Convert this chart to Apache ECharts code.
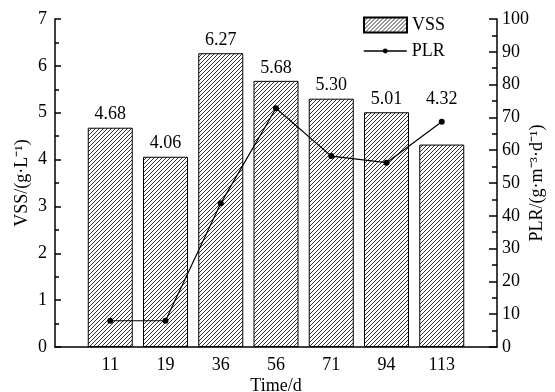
<!DOCTYPE html>
<html>
<head>
<meta charset="utf-8">
<script src="https://cdn.jsdelivr.net/npm/echarts@6/dist/echarts.min.js"></script>
<style>
html,body{margin:0;padding:0;background:#fff;}
#c{width:555px;height:392px;}
</style>
</head>
<body>
<div id="c"></div>
<script>
// Data
var categories = ['', '11', '19', '36', '56', '71', '94', '113', ''];
var vssValues = [null, 4.68, 4.06, 6.27, 5.68, 5.30, 5.01, 4.32, null];
var plrValues = [null, 8, 8, 43.8, 72.8, 58.2, 56.2, 68.7, null];
var vssTicks = [0, 1, 2, 3, 4, 5, 6, 7];
var plrTicks = [0, 10, 20, 30, 40, 50, 60, 70, 80, 90, 100];

var FONT = "'Liberation Serif', 'Times New Roman', serif";

function hatch() {
  var c = document.createElement('canvas');
  c.width = 4; c.height = 4;
  var g = c.getContext('2d');
  g.fillStyle = '#fff';
  g.fillRect(0, 0, 4, 4);
  g.strokeStyle = '#333';
  g.lineWidth = 1;
  g.beginPath();
  g.moveTo(-1, 5); g.lineTo(5, -1);
  g.moveTo(-1, 1); g.lineTo(1, -1);
  g.moveTo(3, 5); g.lineTo(5, 3);
  g.stroke();
  return c;
}

// bar data items; the last label is lifted above the PLR point as in the original
var barData = vssValues.map(function (v, i) {
  if (v === null) return null;
  if (i === 7) return {value: v, label: {distance: 36}};
  return v;
});

var chart = echarts.init(document.getElementById('c'), null, {renderer: 'canvas'});
var axisLineStyle = {color: '#000', width: 1.5};
var legendText = {fontFamily: FONT, fontSize: 18, color: '#000'};
chart.setOption({
  animation: false,
  backgroundColor: '#fff',
  textStyle: {fontFamily: FONT, color: '#000'},
  grid: {left: 55, right: 58, top: 19, bottom: 45, containLabel: false, outerBoundsMode: 'none'},
  legend: [{
    left: 358, top: 11, orient: 'vertical',
    itemWidth: 43, itemHeight: 15, itemGap: 4,
    textStyle: legendText,
    data: [{name: 'VSS', icon: 'rect'}]
  }, {
    left: 358, top: 37, orient: 'vertical',
    itemWidth: 43, itemHeight: 6, itemGap: 4,
    textStyle: legendText,
    data: [{name: 'PLR', lineStyle: {width: 1.5}}]
  }],
  xAxis: {
    type: 'category',
    data: categories,
    boundaryGap: false,
    axisLine: {lineStyle: axisLineStyle},
    axisTick: {show: false},
    axisLabel: {fontFamily: FONT, fontSize: 18, color: '#000', margin: 9},
    name: 'Time/d',
    nameLocation: 'middle',
    nameGap: 30,
    nameMoveOverlap: false,
    nameTextStyle: {fontFamily: FONT, fontSize: 18, color: '#000'}
  },
  yAxis: [{
    type: 'value',
    min: vssTicks[0], max: vssTicks[vssTicks.length - 1], interval: 1,
    position: 'left',
    axisLine: {show: true, lineStyle: axisLineStyle},
    axisTick: {show: true, inside: true, length: 6, lineStyle: {color: '#000', width: 1.5}},
    minorTick: {show: true, splitNumber: 2, length: 4, lineStyle: {color: '#000', width: 1.5}},
    splitLine: {show: false},
    axisLabel: {fontFamily: FONT, fontSize: 18, color: '#000', margin: 8},
    name: 'VSS/(g·L⁻¹)',
    nameLocation: 'middle',
    nameRotate: 90,
    nameGap: 24,
    nameMoveOverlap: false,
    nameTextStyle: {fontFamily: FONT, fontSize: 18, color: '#000'}
  }, {
    type: 'value',
    min: plrTicks[0], max: plrTicks[plrTicks.length - 1], interval: 10,
    position: 'right',
    axisLine: {show: true, lineStyle: axisLineStyle},
    axisTick: {show: true, inside: true, length: 8, lineStyle: {color: '#000', width: 1.5}},
    minorTick: {show: true, splitNumber: 2, length: 5, lineStyle: {color: '#000', width: 1.5}},
    splitLine: {show: false},
    axisLabel: {fontFamily: FONT, fontSize: 18, color: '#000', margin: 5},
    name: 'PLR/(g·m⁻³·d⁻¹)',
    nameLocation: 'middle',
    nameRotate: 90,
    nameGap: 31,
    nameMoveOverlap: false,
    nameTextStyle: {fontFamily: FONT, fontSize: 18, color: '#000'}
  }],
  series: [{
    name: 'VSS',
    type: 'bar',
    data: barData,
    yAxisIndex: 0,
    barWidth: 45,
    itemStyle: {color: {image: hatch(), repeat: 'repeat'}, borderColor: '#000', borderWidth: 1},
    label: {
      show: true, position: 'top', distance: 4,
      fontFamily: FONT, fontSize: 18, color: '#000',
      formatter: function (p) { return Number(p.value).toFixed(2); }
    }
  }, {
    name: 'PLR',
    type: 'line',
    data: plrValues,
    yAxisIndex: 1,
    symbol: 'circle',
    symbolSize: 6,
    lineStyle: {color: '#000', width: 1.2},
    itemStyle: {color: '#000'}
  }]
});
</script>
</body>
</html>
